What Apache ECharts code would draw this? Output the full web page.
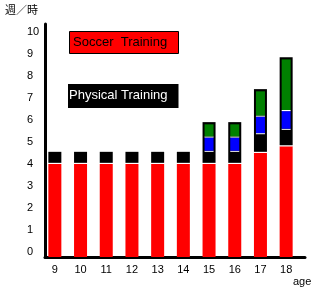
<!DOCTYPE html>
<html lang="ja">
<head>
<meta charset="utf-8">
<title>Training</title>
<script src="https://cdn.jsdelivr.net/npm/echarts@6/dist/echarts.min.js"></script>
<style>
  html, body { margin: 0; padding: 0; background: #fff; }
  #main { width: 318px; height: 295px; }
</style>
</head>
<body>
<div id="main"></div>
<script>
    // 年齢別のトレーニング時間（週／時）
    var ages = ['9', '10', '11', '12', '13', '14', '15', '16', '17', '18'];
    var soccer = [4, 4, 4, 4, 4, 4, 4, 4, 4.5, 4.8];
    var physical = [0.5, 0.5, 0.5, 0.5, 0.5, 0.5, 0.5, 0.5, 0.8, 0.7];
    var blue = [0, 0, 0, 0, 0, 0, 0.6, 0.6, 0.75, 0.8];
    var green = [0, 0, 0, 0, 0, 0, 0.55, 0.55, 1.1, 2.3];
    var yTicks = [0, 1, 2, 3, 4, 5, 6, 7, 8, 9, 10];

    var SEP = 0.05;   // white line between segments
    var PAD = 0.1;    // black frame above the green part
    var font = 'Liberation Sans';

    var sep = ages.map(function () { return SEP; });
    var frame = physical.map(function (v, i) {
        var inner = blue[i] + green[i];
        return inner > 0 ? v + SEP + blue[i] + SEP + green[i] + PAD : v;
    });
    var base = soccer.map(function (v, i) { return v + SEP + physical[i]; });
    var sepInner = blue.map(function (v) { return v > 0 ? SEP : 0; });

    var chart = echarts.init(document.getElementById('main'));
    var option = {
        animation: false,
        title: [
            {
                text: '週／時', left: 5, top: 4, padding: 0,
                textStyle: { fontFamily: 'Noto Sans CJK JP', fontSize: 11, fontWeight: 'normal', color: '#000' }
            },
            {
                text: 'Soccer  Training', left: 69, top: 31, padding: [5, 12, 5, 4],
                backgroundColor: '#ff0000', borderColor: '#000', borderWidth: 1,
                textStyle: { fontFamily: font, fontSize: 13, fontWeight: 'normal', color: '#000' }
            },
            {
                text: 'Physical Training', left: 68, top: 84, padding: [5, 11, 6, 1],
                backgroundColor: '#000',
                textStyle: { fontFamily: font, fontSize: 13, fontWeight: 'normal', color: '#fff' }
            },
            {
                text: 'age', left: 293, top: 276, padding: 0,
                textStyle: { fontFamily: font, fontSize: 11, fontWeight: 'normal', color: '#000' }
            }
        ],
        grid: [
            { left: 42, right: 19, top: 24, bottom: 38 },
            { left: 45, right: 13, top: 24, bottom: 38 }
        ],
        xAxis: [
            {
                type: 'category', data: ages, gridIndex: 0,
                axisTick: { show: false },
                axisLine: { show: false },
                axisLabel: { margin: 7, color: '#000', fontFamily: font, fontSize: 11 }
            },
            { type: 'category', data: ages, gridIndex: 0, show: false },
            {
                type: 'category', data: [''], gridIndex: 1,
                axisTick: { show: false }, axisLabel: { show: false },
                axisLine: { lineStyle: { color: '#000', width: 3 } }
            }
        ],
        yAxis: [
            {
                type: 'value', gridIndex: 0, min: -0.23, max: 10.36, splitNumber: 10, startValue: -0.23,
                offset: -3,
                splitLine: { show: false },
                axisTick: { show: false },
                axisLine: { show: true, onZero: false, lineStyle: { color: '#000', width: 3 } },
                axisLabel: {
                    margin: 18, align: 'left', color: '#000', fontFamily: font, fontSize: 11,
                    formatter: function (v) { return yTicks.indexOf(v) >= 0 ? String(v) : ''; }
                }
            },
            { type: 'value', gridIndex: 1, show: false }
        ],
        series: [
            { name: 'Soccer Training', type: 'bar', stack: 'main', barWidth: 13, data: soccer, itemStyle: { color: '#ff0000' } },
            { type: 'bar', stack: 'main', barWidth: 13, data: sep, itemStyle: { color: '#fff' } },
            { name: 'Physical Training', type: 'bar', stack: 'main', barWidth: 13, data: frame, itemStyle: { color: '#000' } },

            { type: 'bar', xAxisIndex: 1, stack: 'inner', barWidth: 9, data: base, itemStyle: { color: 'rgba(0,0,0,0)' } },
            { type: 'bar', xAxisIndex: 1, stack: 'inner', barWidth: 9, data: sepInner, itemStyle: { color: '#fff' } },
            { type: 'bar', xAxisIndex: 1, stack: 'inner', barWidth: 9, data: blue, itemStyle: { color: '#0000ff' } },
            { type: 'bar', xAxisIndex: 1, stack: 'inner', barWidth: 9, data: sepInner, itemStyle: { color: '#fff' } },
            { type: 'bar', xAxisIndex: 1, stack: 'inner', barWidth: 9, data: green, itemStyle: { color: '#008000' } }
        ]
    };
    chart.setOption(option);
</script>
</body>
</html>
